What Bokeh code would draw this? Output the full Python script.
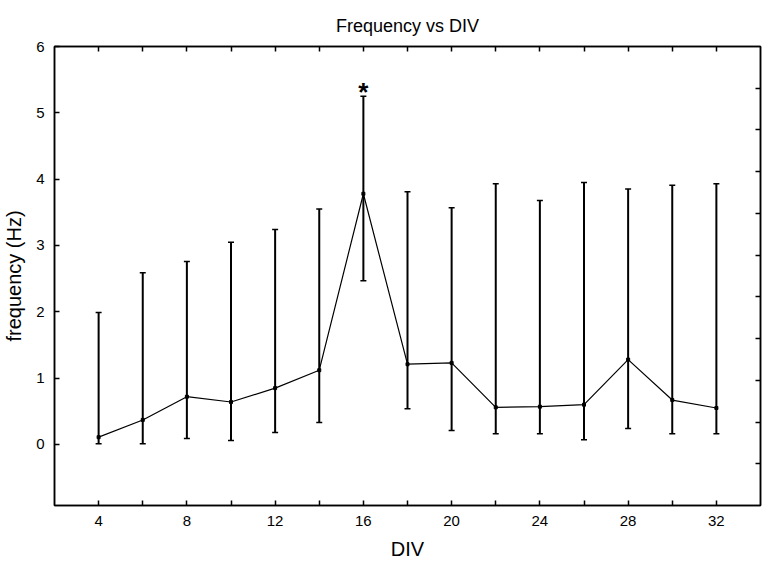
from bokeh.plotting import figure
from bokeh.models import Range1d, LinearAxis, FixedTicker, ColumnDataSource, Whisker, TeeHead
from bokeh.core.properties import value
from bokeh.embed import file_html
from bokeh.resources import INLINE

# ---- data ----
div = [4, 6, 8, 10, 12, 14, 16, 18, 20, 22, 24, 26, 28, 30, 32]
freq_mean = [0.11, 0.37, 0.72, 0.64, 0.85, 1.12, 3.78, 1.21, 1.23, 0.56, 0.57, 0.60, 1.28, 0.67, 0.55]
freq_upper = [1.99, 2.59, 2.76, 3.05, 3.24, 3.55, 5.25, 3.81, 3.57, 3.93, 3.68, 3.95, 3.85, 3.91, 3.93]
freq_lower = [0.01, 0.01, 0.09, 0.06, 0.18, 0.33, 2.47, 0.54, 0.21, 0.16, 0.16, 0.07, 0.24, 0.16, 0.16]
x_labeled_ticks = [4, 8, 12, 16, 20, 24, 28, 32]
x_minor_ticks = [6, 10, 14, 18, 22, 26, 30]
y_ticks = [0, 1, 2, 3, 4, 5, 6]
right_ticks = [1, 2, 3, 4, 5, 6, 7, 8, 9, 10]
signif_div = [16]
signif_mark = ["*"]

FONT = "Liberation Sans"

src = ColumnDataSource(dict(x=div, m=freq_mean, up=freq_upper, lo=freq_lower))
idx = div.index(signif_div[0])
star_src = ColumnDataSource(dict(x=signif_div, y=[freq_upper[idx]], t=signif_mark))

p = figure(width=768, height=570, x_range=Range1d(2, 34), y_range=Range1d(-0.92, 6),
           output_backend="svg", toolbar_location=None,
           min_border_left=54, min_border_right=8, min_border_top=46, min_border_bottom=65)
p.extra_y_ranges = {"r": Range1d(0, 11)}

p.title.text = "Frequency vs DIV"
p.title.text_font = FONT
p.title.text_font_size = "18px"
p.title.text_font_style = "normal"
p.title.text_color = "black"
p.title.align = "center"
p.title.standoff = 22

p.xgrid.visible = False
p.ygrid.visible = False
p.outline_line_color = "black"
p.outline_line_width = 1.5
p.background_fill_color = "white"
p.border_fill_color = "white"

def style(ax, labels=True):
    ax.axis_line_color = "black"
    ax.axis_line_width = 1.5
    ax.major_tick_in = 5
    ax.major_tick_out = 0
    ax.minor_tick_in = 5
    ax.minor_tick_out = 0
    ax.major_tick_line_width = 1.5
    ax.minor_tick_line_width = 1.5
    ax.major_tick_line_color = "black"
    ax.minor_tick_line_color = "black"
    ax.major_label_text_font = FONT
    ax.major_label_text_font_size = "15px"
    ax.major_label_text_color = "black"
    ax.axis_label_text_font = FONT
    ax.axis_label_text_font_size = "20px"
    ax.axis_label_text_font_style = "normal"
    ax.axis_label_text_color = "black"
    if not labels:
        ax.major_label_text_font_size = "0px"
        ax.major_label_standoff = 0

xa = p.xaxis[0]
xa.ticker = FixedTicker(ticks=x_labeled_ticks, minor_ticks=x_minor_ticks)
xa.axis_label = "DIV"
style(xa)
xa.major_label_standoff = 10
xa.axis_label_standoff = 9

ya = p.yaxis[0]
ya.ticker = FixedTicker(ticks=y_ticks, minor_ticks=[])
ya.axis_label = "frequency (Hz)"
style(ya)
ya.major_label_standoff = 10
ya.axis_label_standoff = 8

top = LinearAxis(ticker=FixedTicker(ticks=x_labeled_ticks, minor_ticks=x_minor_ticks))
style(top, labels=False)
top.major_label_overrides = {t: "" for t in x_labeled_ticks}
p.add_layout(top, "above")

right = LinearAxis(y_range_name="r", ticker=FixedTicker(ticks=right_ticks, minor_ticks=[]))
style(right, labels=False)
right.major_label_overrides = {t: "" for t in right_ticks}
p.add_layout(right, "right")

w = Whisker(base="x", upper="up", lower="lo", source=src, dimension="height",
            line_color="black", line_width=2,
            upper_head=TeeHead(size=6, line_width=1.5, line_color="black"),
            lower_head=TeeHead(size=6, line_width=1.5, line_color="black"))
p.add_layout(w)

p.line("x", "m", source=src, line_color="black", line_width=1.2)
p.scatter("x", "m", source=src, marker="square", size=3, color="black")

p.text("x", "y", text="t", source=star_src, text_font=value(FONT), text_font_size="26px",
       text_font_style="bold", text_align="center", text_baseline="alphabetic",
       y_offset=-4, text_color="black")

open("out.html", "w").write(file_html(p, INLINE))
